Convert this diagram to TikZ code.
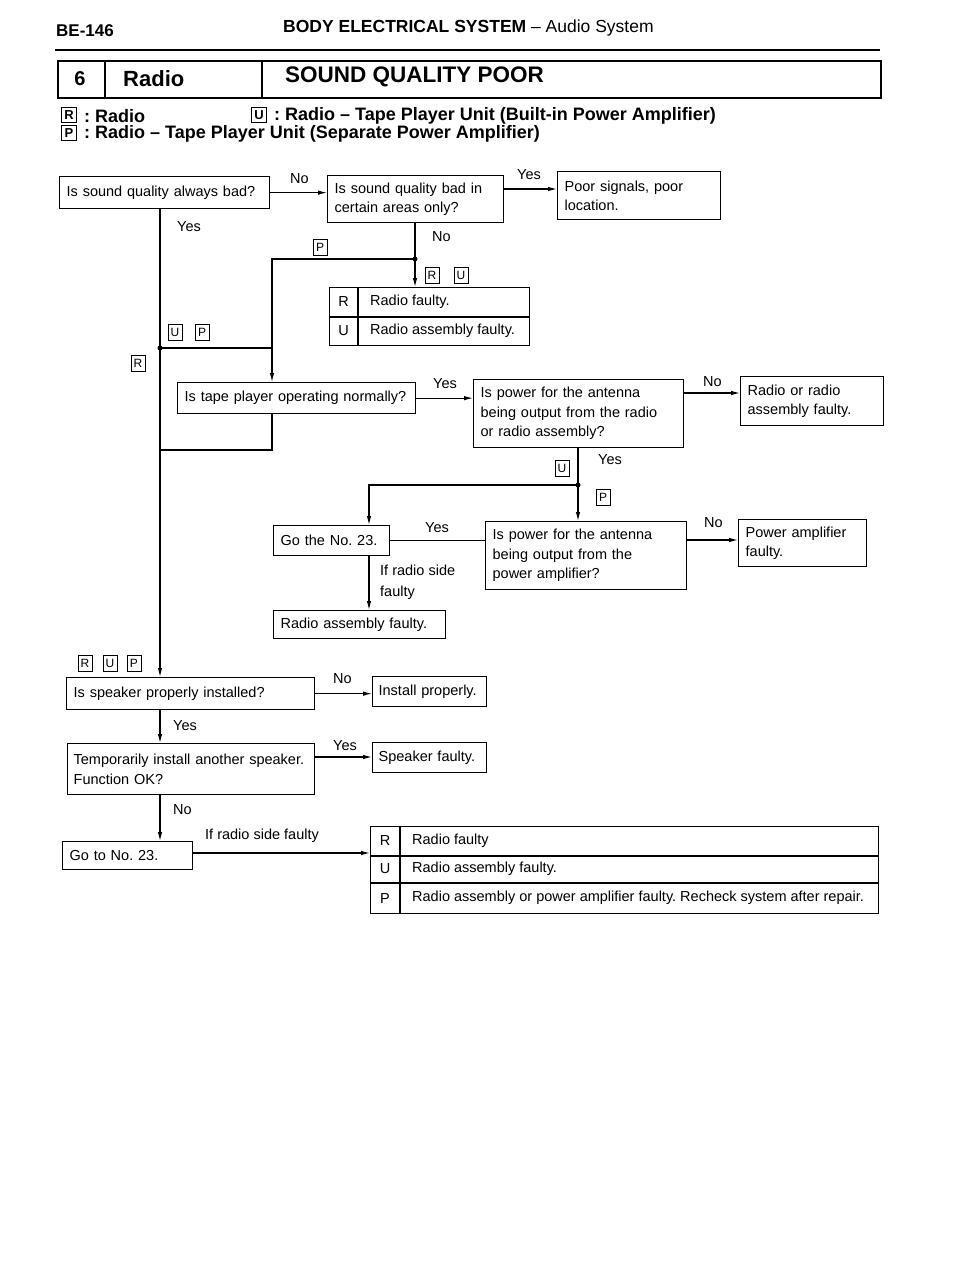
\documentclass[tikz,border=0pt]{standalone}
\usepackage{fontspec}
\setmainfont{Liberation Sans}
\usetikzlibrary{arrows.meta,calc}
\newcommand\bodyf{\fontsize{14.5}{19.5}\selectfont}
\newcommand\tagf{\fontsize{12}{12}\selectfont}
\newcommand\legf{\bfseries\fontsize{18}{18}\selectfont}
\frenchspacing
\begin{document}
\frenchspacing
\begin{tikzpicture}[x=1pt,y=-1pt,
 box/.style={draw,line width=1.3pt,inner xsep=7pt,inner ysep=0pt,align=left,font=\bodyf,anchor=north west},
 lbl/.style={font=\bodyf,inner sep=0pt,anchor=west},
 tag/.style={draw,line width=0.8pt,inner sep=0pt,minimum width=14pt,minimum height=16pt,font=\tagf},
 ltag/.style={draw,line width=0.9pt,inner sep=0pt,minimum width=15pt,minimum height=15pt,font=\bfseries\fontsize{13}{13}\selectfont},
 ln/.style={line width=1.1pt},
 arr/.style={line width=1.1pt,-{Latex[length=9pt,width=4.5pt]}},
 jdot/.style={circle,fill,inner sep=0pt,minimum size=5pt}]
\fill[white] (0,0) rectangle (960,1280);
\useasboundingbox (0,0) rectangle (960,1280);

% header
\node[anchor=west,inner sep=0pt,font=\bfseries\fontsize{17}{17}\selectfont] (pg) at (56,31) {BE-146};
\node[anchor=west,inner sep=0pt,font=\fontsize{17.5}{17.5}\selectfont] (hd) at (283,28) {\textbf{BODY ELECTRICAL SYSTEM} -- Audio System};
\coordinate (h1) at (55,50);
\coordinate (h2) at (880,50);
\draw[line width=2.5pt] (h1) -- (h2);

% title box
\node[draw,line width=1.5pt,anchor=north west,minimum width=823pt,minimum height=37pt,inner sep=0pt] (tb) at (57,60) {};
\draw[line width=1.3pt] (105,60) -- (105,97);
\draw[line width=1.3pt] (262,60) -- (262,97);
\node[inner sep=0pt,font=\bfseries\fontsize{20}{20}\selectfont] (t6) at (80,79) {6};
\node[anchor=west,inner sep=0pt,font=\bfseries\fontsize{22}{22}\selectfont] (tr) at (123,79) {Radio};
\node[anchor=west,inner sep=0pt,font=\bfseries\fontsize{22.5}{22.5}\selectfont] (ts) at (285,77) {SOUND QUALITY POOR};

% legend
\node[ltag] (gR) at (69,115) {R};
\node[anchor=west,inner sep=0pt,font=\legf] (gRt) at (84,116) {: Radio};
\node[ltag] (gU) at (259,115) {U};
\node[anchor=west,inner sep=0pt,font=\legf] (gUt) at (274,116) {: Radio -- Tape Player Unit (Built-in Power Amplifier)};
\node[ltag] (gP) at (69,133) {P};
\node[anchor=west,inner sep=0pt,font=\legf] (gPt) at (84,134) {: Radio -- Tape Player Unit (Separate Power Amplifier)};

% boxes
\node[box,minimum width=210pt,minimum height=32pt,text width=196pt] (A) at (59,176) {Is sound quality always bad?};
\node[box,minimum width=176pt,minimum height=47pt,text width=162pt] (B) at (327,175) {Is sound quality bad in\\certain areas only?};
\node[box,minimum width=163pt,minimum height=48pt,text width=149pt] (C) at (557,171) {Poor signals, poor\\location.};
\node[draw,line width=1.3pt,anchor=north west,minimum width=200pt,minimum height=58pt,inner sep=0pt] (RU) at (329,287) {};
\node[box,minimum width=238pt,minimum height=31pt,text width=224pt] (T) at (177,382) {Is tape player operating normally?};
\node[box,minimum width=210pt,minimum height=68pt,text width=196pt] (P1) at (473,379) {Is power for the antenna\\being output from the radio\\or radio assembly?};
\node[box,minimum width=143pt,minimum height=49pt,text width=129pt] (RR) at (740,376) {Radio or radio\\assembly faulty.};
\node[box,minimum width=116pt,minimum height=30pt,text width=102pt] (G) at (273,525) {Go the No. 23.};
\node[box,minimum width=201pt,minimum height=68pt,text width=187pt] (P2) at (485,521) {Is power for the antenna\\being output from the\\power amplifier?};
\node[box,minimum width=128pt,minimum height=47pt,text width=114pt] (PA) at (738,519) {Power amplifier\\faulty.};
\node[box,minimum width=172pt,minimum height=28pt,text width=158pt] (RAF) at (273,610) {Radio assembly faulty.};
\node[box,minimum width=248pt,minimum height=32pt,text width=234pt] (S) at (66,677) {Is speaker properly installed?};
\node[box,minimum width=114pt,minimum height=30pt,text width=102pt,inner xsep=6pt] (I) at (372,676) {Install properly.};
\node[box,minimum width=247pt,minimum height=51pt,text width=235pt,inner xsep=6pt] (TP) at (67,743) {Temporarily install another speaker.\\Function OK?};
\node[box,minimum width=114pt,minimum height=30pt,text width=102pt,inner xsep=6pt] (SF) at (372,742) {Speaker faulty.};
\node[box,minimum width=130pt,minimum height=28pt,text width=116pt] (GT) at (62,841) {Go to No. 23.};
\node[draw,line width=1.3pt,anchor=north west,minimum width=508pt,minimum height=87pt,inner sep=0pt] (RT) at (370,826) {};

% tables inside
\draw[line width=1.1pt] (358,287) -- (358,345);
\draw[line width=1.1pt] (329,317) -- (529,317);
\node[lbl,anchor=center] (ru1) at (343.5,302) {R};
\node[lbl] (ru2) at (370,302) {Radio faulty.};
\node[lbl,anchor=center] (ru3) at (343.5,331) {U};
\node[lbl] (ru4) at (370,331) {Radio assembly faulty.};

\draw[line width=1.1pt] (400,826) -- (400,913);
\draw[line width=1.1pt] (370,856) -- (878,856);
\draw[line width=1.1pt] (370,883) -- (878,883);
\node[lbl,anchor=center] (rt1) at (385,841) {R};
\node[lbl] (rt2) at (412,841) {Radio faulty};
\node[lbl,anchor=center] (rt3) at (385,869) {U};
\node[lbl] (rt4) at (412,869) {Radio assembly faulty.};
\node[lbl,anchor=center] (rt5) at (385,898) {P};
\node[lbl] (rt6) at (412,898) {Radio assembly or power amplifier faulty. Recheck system after repair.};

% junctions
\coordinate (J1) at (160,348);
\coordinate (J2) at (415,259);
\coordinate (K1) at (272,259);
\coordinate (K2) at (272,450);
\coordinate (J3) at (578,485);
\coordinate (K3) at (369,485);
\coordinate (b1) at (503,189);
\coordinate (p1) at (683,393);
\coordinate (p2) at (686,540);
\coordinate (tp1) at (314,757);
\coordinate (g1) at (192,853);

% connectors
\draw[arr] (A.east) -- (A.east -| B.west);
\draw[arr] (b1) -- (b1 -| C.west);
\draw[arr] (A.south -| J1) -- (J1 |- S.north);
\draw[arr] (B.south -| J2) -- (J2 |- RU.north);
\draw[arr] (J2) -- (K1) -- (K1 |- T.north);
\draw[ln] (J1) -- (J1 -| K1);
\draw[ln] (T.south -| K2) -- (K2) -- (K2 -| J1);
\draw[arr] (T.east) -- (T.east -| P1.west);
\draw[arr] (p1) -- (p1 -| RR.west);
\draw[ln] (P1.south -| J3) -- (J3);
\draw[arr] (J3) -- (J3 |- P2.north);
\draw[arr] (J3) -- (K3) -- (K3 |- G.north);
\draw[ln] (G.east) -- (G.east -| P2.west);
\draw[arr] (p2) -- (p2 -| PA.west);
\draw[arr] (G.south -| K3) -- (K3 |- RAF.north);
\draw[arr] (S.east) -- (S.east -| I.west);
\draw[arr] (S.south -| J1) -- (J1 |- TP.north);
\draw[arr] (tp1) -- (tp1 -| SF.west);
\draw[arr] (TP.south -| J1) -- (J1 |- GT.north);
\draw[arr] (g1) -- (g1 -| RT.west);
\node[jdot] (d1) at (J1) {};
\node[jdot] (d2) at (J2) {};
\node[jdot] (d3) at (J3) {};

% labels
\node[lbl] (l1) at (290,179) {No};
\node[lbl] (l2) at (517,175) {Yes};
\node[lbl] (l3) at (177,227) {Yes};
\node[lbl] (l4) at (432,237) {No};
\node[tag] (q1) at (320,247) {P};
\node[tag] (q2) at (432,275) {R};
\node[tag] (q3) at (461,275) {U};
\node[tag] (q4) at (175,332) {U};
\node[tag] (q5) at (202,332) {P};
\node[tag] (q6) at (138,363) {R};
\node[lbl] (l5) at (433,384) {Yes};
\node[lbl] (l6) at (703,382) {No};
\node[tag] (q7) at (562,468) {U};
\node[lbl] (l7) at (598,460) {Yes};
\node[tag] (q8) at (603,497) {P};
\node[lbl] (l8) at (425,528) {Yes};
\node[lbl] (l9) at (704,523) {No};
\node[lbl,align=left,font=\fontsize{14.5}{21}\selectfont] (l10) at (380,582) {If radio side\\faulty};
\node[tag] (q9) at (85,663) {R};
\node[tag] (q10) at (110,663) {U};
\node[tag] (q11) at (134,663) {P};
\node[lbl] (l11) at (333,679) {No};
\node[lbl] (l12) at (173,726) {Yes};
\node[lbl] (l13) at (333,746) {Yes};
\node[lbl] (l14) at (173,810) {No};
\node[lbl] (l15) at (205,836) {If radio side faulty};
\end{tikzpicture}
\end{document}
